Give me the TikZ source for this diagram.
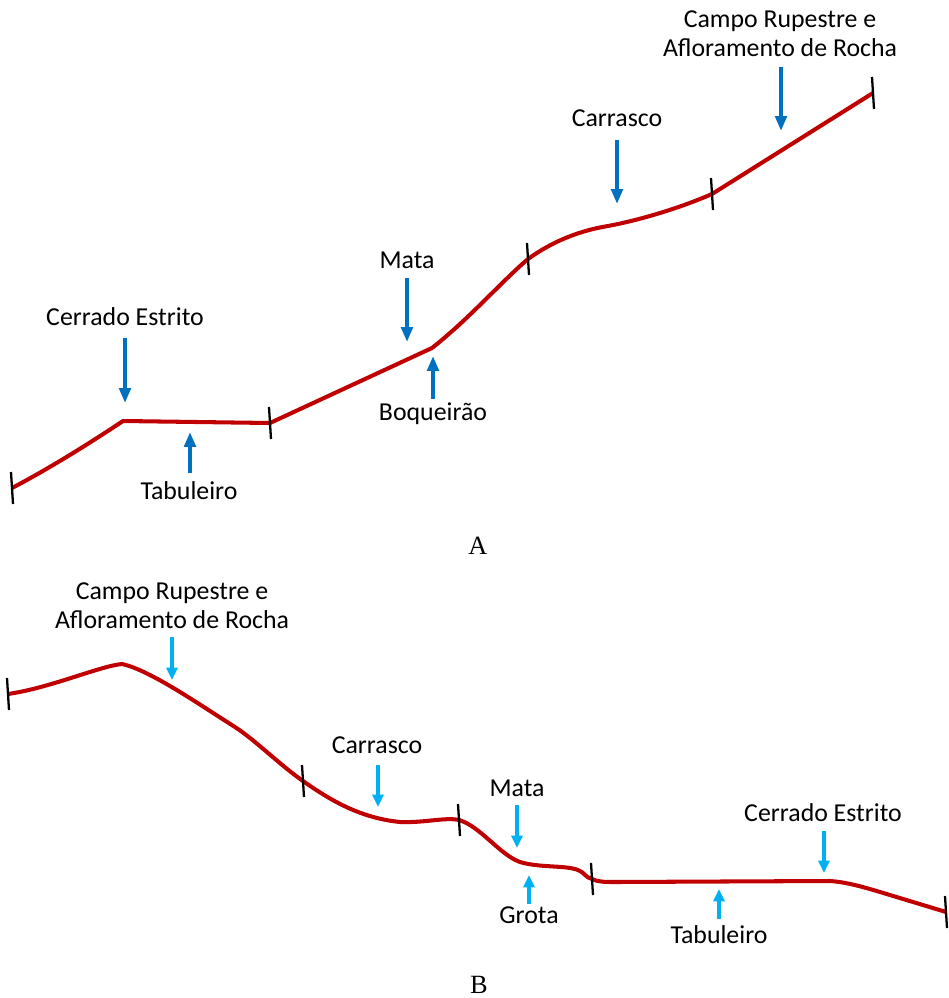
\documentclass[tikz,border=0pt]{standalone}
\usepackage{fontspec}
\usepackage{xcolor}
\usetikzlibrary{arrows.meta,calc}
\newfontfamily\lblfont{Carlito}
\newfontfamily\panelfont{Liberation Serif}
\definecolor{profred}{HTML}{C00000}
\definecolor{darkblue}{HTML}{0070C0}
\definecolor{lightblue}{HTML}{00B0F0}

\begin{document}
\begin{tikzpicture}[x=0.02cm,y=-0.02cm,
  prof/.style={draw=profred,line width=2.3pt,line join=round},
  tickmark/.style={draw=black,line width=1.3pt},
  lbl/.style={font=\lblfont\fontsize{14.7}{16.5}\selectfont,align=center,inner sep=0pt},
  panel/.style={font=\panelfont\fontsize{15}{17}\selectfont,inner sep=0pt},
  arrA/.style={draw=darkblue,line width=2.8pt,-{Triangle[width=6.5pt,length=8.5pt]}},
  arrB/.style={draw=lightblue,line width=2.6pt,-{Triangle[width=6.2pt,length=7pt]}}]
\useasboundingbox (0,0) rectangle (949,998);

\coordinate (a0) at (12,488);
\coordinate (a1) at (123,421);
\coordinate (a2) at (270,423);
\coordinate (a3) at (432,348);
\coordinate (a4) at (528,259);
\coordinate (a5) at (608,226);
\coordinate (a6) at (712,194);
\coordinate (a7) at (873,93);
\draw[prof] (a0) .. controls (50,468) and (90,443) .. (a1) -- (a2) -- (a3)
  .. controls (470,318) and (500,283) .. (a4) .. controls (560,236) and (590,229) .. (a5)
  .. controls (640,220) and (680,208) .. (a6) -- (a7);
\foreach \p in {a0,a2,a4,a6,a7}
  \draw[tickmark] ([shift={(-1,-16)}]\p) -- ([shift={(1,16)}]\p);

\node[lbl] (ceA) at (125,317) {Cerrado Estrito};
\node[lbl] (tbA) at (189,491) {Tabuleiro};
\node[lbl] (mtA) at (407,260) {Mata};
\node[lbl] (bqA) at (433,414) {Boqueirão};
\node[lbl] (crA) at (617,118) {Carrasco};
\node[lbl] (cpA) at (780,34) {Campo Rupestre e\\Afloramento de Rocha};
\node[panel] (A) at (478,546) {A};

\coordinate (ceA1) at (125,338); \coordinate (ceA2) at (125,403);
\coordinate (tbA1) at (190,473); \coordinate (tbA2) at (190,432);
\coordinate (mtA1) at (407,278); \coordinate (mtA2) at (407,342);
\coordinate (bqA1) at (433,399); \coordinate (bqA2) at (433,356);
\coordinate (crA1) at (617,140); \coordinate (crA2) at (617,204);
\coordinate (cpA1) at (781,67);  \coordinate (cpA2) at (781,131);
\foreach \s in {ceA,tbA,mtA,bqA,crA,cpA}
  \draw[arrA] (\s1) -- (\s2);

\coordinate (b0) at (8,694);
\coordinate (b1) at (122,664);
\coordinate (b2) at (235,727);
\coordinate (b3) at (303,781);
\coordinate (b4) at (400,822);
\coordinate (b5) at (459,820);
\coordinate (b6) at (520,862);
\coordinate (b7) at (578,870);
\coordinate (b8) at (592,879);
\coordinate (b9) at (830,881);
\coordinate (b10) at (946,912);
\draw[prof] (b0) .. controls (50,688) and (100,666) .. (b1)
  .. controls (150,670) and (200,705) .. (b2) .. controls (255,740) and (280,765) .. (b3)
  .. controls (330,800) and (360,818) .. (b4) .. controls (425,823) and (445,817) .. (b5)
  .. controls (480,826) and (500,855) .. (b6) .. controls (540,868) and (565,865) .. (b7)
  .. controls (584,872) and (586,878) .. (b8) .. controls (598,882) and (605,882) .. (615,882)
  -- (b9) .. controls (845,882) and (860,886) .. (880,892) -- (b10);
\foreach \p in {b0,b3,b5,b8,b10}
  \draw[tickmark] ([shift={(-1,-16)}]\p) -- ([shift={(1,16)}]\p);

\node[lbl] (cpB) at (172,606) {Campo Rupestre e\\Afloramento de Rocha};
\node[lbl] (crB) at (377,745) {Carrasco};
\node[lbl] (mtB) at (517,788) {Mata};
\node[lbl] (grB) at (529,915) {Grota};
\node[lbl] (ceB) at (823,813) {Cerrado Estrito};
\node[lbl] (tbB) at (719,935) {Tabuleiro};
\node[panel] (B) at (479,985) {B};

\coordinate (cpB1) at (172,637); \coordinate (cpB2) at (172,680);
\coordinate (crB1) at (378,765); \coordinate (crB2) at (378,807);
\coordinate (mtB1) at (517,805); \coordinate (mtB2) at (517,848);
\coordinate (grB1) at (529,904); \coordinate (grB2) at (529,875);
\coordinate (ceB1) at (824,831); \coordinate (ceB2) at (824,873);
\coordinate (tbB1) at (719,919); \coordinate (tbB2) at (719,889);
\foreach \s in {cpB,crB,mtB,grB,ceB,tbB}
  \draw[arrB] (\s1) -- (\s2);
\end{tikzpicture}
\end{document}
